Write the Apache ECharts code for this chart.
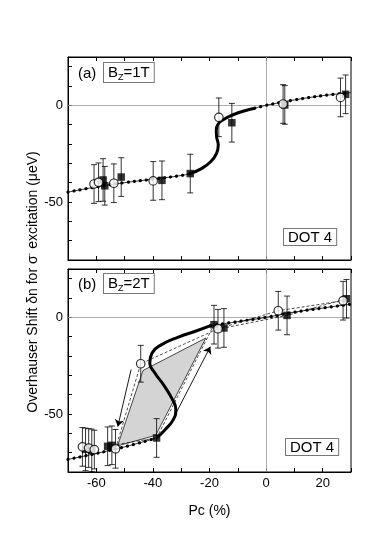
<!DOCTYPE html>
<html>
<head>
<meta charset="utf-8">
<script src="https://cdn.jsdelivr.net/npm/echarts@6/dist/echarts.min.js"></script>
<style>
  html, body { margin: 0; padding: 0; background: #fff; }
  #main { width: 390px; height: 560px; }
</style>
</head>
<body>
<div id="main"></div>
<script>
// axis tick labels
const xLabels = [-60, -40, -20, 0, 20];
const yLabels = [0, -50];

// panel (a), B_Z = 1T : [Pc, shift, error]
const aOpen = [[-60.8, -40.7, 10], [-59.2, -39.8, 10], [-53.8, -40.3, 10], [-39.9, -39.1, 10],
  [-16.7, -6.2, 10], [6.0, 0.7, 10], [26.3, 4.1, 10]];
const aFilled = [[-57.6, -38.6, 11], [-57.0, -41.6, 10], [-51.2, -37.1, 10], [-36.8, -38.8, 10],
  [-26.8, -35.3, 10], [-12.1, -9.0, 10], [6.6, 0.2, 10], [28.1, 5.7, 10]];
const aFitLeft = [[-70, -44.9], [-60, -42.2], [-50, -40.0], [-40, -38.2], [-30, -36.3], [-26.8, -35.3]];
const aFitS = [[-26.8, -35.3], [-23.2, -33.0], [-19.6, -29.2], [-17.5, -24.8], [-16.9, -20.5], [-17.5, -16.2],
  [-17.6, -12.8], [-17.0, -9.8], [-15.3, -7.6], [-11.9, -5.0], [-7.8, -2.9], [-4.0, -1.5]];
const aFitRight = [[-4.0, -1.5], [0, 0], [10, 2.8], [20, 5.0], [30, 6.6]];

// panel (b), B_Z = 2T
const bOpen = [[-64.9, -67.0, 10], [-62.7, -67.6, 10], [-60.7, -68.4, 10], [-53.2, -68.0, 10],
  [-44.3, -24.0, 9.5], [-17.0, -5.9, 10], [4.3, 3.4, 10], [27.2, 8.6, 10]];
const bFilled = [[-63.8, -68.3, 11], [-61.6, -68.8, 11], [-56.0, -66.7, 10], [-54.5, -66.2, 10],
  [-38.7, -62.4, 10], [-18.4, -3.8, 10], [-14.9, -5.5, 10], [7.4, 1.0, 10], [28.4, 9.6, 10]];
const bFitLeft = [[-70, -73.5], [-60, -70.4], [-50, -67.0], [-38.7, -62.4]];
const bFitS = [[-38.7, -62.4], [-35.7, -58.1], [-32.8, -52.9], [-31.9, -47.7], [-33.4, -41.7], [-36.3, -34.8],
  [-39.3, -28.8], [-41.1, -23.6], [-40.3, -18.4], [-36.9, -14.1], [-31.0, -10.2], [-25.0, -7.2], [-19.6, -4.3]];
const bFitRight = [[-19.6, -4.3], [-10, -2.2], [0, 0], [10, 2.7], [20, 4.8], [30, 6.8]];
const bOpenPath = [[-53.2, -68.0], [-44.3, -24.0], [-17.0, -5.9], [4.3, 3.4], [27.2, 8.6]];
const bFilledPath = [[-54.5, -66.2], [-38.7, -62.4], [-18.4, -3.8], [-14.9, -5.5], [7.4, 1.0], [28.4, 9.6]];
const bLoop = [[-52.5, -66.5], [-43.5, -27.5], [-21.3, -10.7], [-39.0, -61.0]];
const bArrows = [[[-47.7, -27.0], [-52.4, -56.5]], [[-32.0, -50.0], [-19.7, -15.2]]];

const font = "'Liberation Sans', Arial, sans-serif";
const chart = echarts.init(document.getElementById('main'), null, { renderer: 'canvas' });

function xAxisFor(grid, showLabels) {
  return {
    type: 'value', gridIndex: grid, min: -70, max: 30, interval: 10,
    axisLine: { show: true, onZero: false, lineStyle: { color: '#000', width: 1 } },
    axisTick: { show: true, inside: true, length: 4, lineStyle: { color: '#000' } },
    axisLabel: {
      show: showLabels, margin: 5, color: '#000', fontFamily: font, fontSize: 13,
      formatter: v => xLabels.includes(v) ? String(v) : ''
    },
    splitLine: { show: false },
    name: showLabels ? 'Pc (%)' : '', nameLocation: 'middle', nameGap: 32,
    nameTextStyle: { color: '#000', fontFamily: font, fontSize: 14 }
  };
}
function xTopFor(grid) {
  return {
    type: 'value', gridIndex: grid, position: 'top', min: -70, max: 30, interval: 10,
    axisLine: { show: true, onZero: false, lineStyle: { color: '#000' } },
    axisTick: { show: true, inside: true, length: 4, lineStyle: { color: '#000' } },
    axisLabel: { show: false }, splitLine: { show: false }
  };
}
function yAxisFor(grid) {
  return {
    type: 'value', gridIndex: grid, position: 'left', min: -80, max: 25, interval: 10,
    axisLine: { show: true, onZero: false, lineStyle: { color: '#000', width: 1 } },
    axisTick: { show: true, inside: true, length: 4, lineStyle: { color: '#000' } },
    axisLabel: {
      margin: 5, color: '#000', fontFamily: font, fontSize: 13,
      formatter: v => yLabels.includes(v) ? String(v) : ''
    },
    splitLine: { show: false }
  };
}

function errorBars(data, g) {
  return {
    type: 'custom', xAxisIndex: g, yAxisIndex: g, z: 5, silent: true,
    data: data,
    renderItem: function (params, api) {
      const x = api.value(0), y = api.value(1), e = api.value(2);
      const t = api.coord([x, y + e]), b = api.coord([x, y - e]);
      const st = { stroke: '#000', lineWidth: 0.8 };
      return {
        type: 'group', children: [
          { type: 'line', shape: { x1: t[0], y1: t[1], x2: b[0], y2: b[1] }, style: st },
          { type: 'line', shape: { x1: t[0] - 3, y1: t[1], x2: t[0] + 3, y2: t[1] }, style: st },
          { type: 'line', shape: { x1: b[0] - 3, y1: b[1], x2: b[0] + 3, y2: b[1] }, style: st }
        ]
      };
    }
  };
}
function markers(data, g, kind) {
  const open = kind === 'open';
  return {
    type: 'scatter', xAxisIndex: g, yAxisIndex: g, z: open ? 7 : 6,
    data: data.map(p => [p[0], p[1]]),
    symbol: open ? 'circle' : 'rect', symbolSize: open ? 8.5 : 7.5,
    itemStyle: open ? { color: '#fff', borderColor: '#000', borderWidth: 1.2 } : { color: '#000' }
  };
}
// thin line plus round dots; the first one of a panel also carries the grey zero lines
function dotted(data, g, withZero) {
  const thin = { type: 'line', xAxisIndex: g, yAxisIndex: g, z: 3, data: data, smooth: 0.4, showSymbol: false,
    lineStyle: { color: '#000', width: 0.8 } };
  if (withZero) {
    thin.markLine = { silent: true, symbol: 'none', label: { show: false }, animation: false, z: 1,
      lineStyle: { color: '#999', width: 0.8, type: 'solid' },
      data: [{ xAxis: 0 }, { yAxis: 0 }] };
  }
  return [thin,
    { type: 'line', xAxisIndex: g, yAxisIndex: g, z: 3, data: data, smooth: 0.4, showSymbol: false,
      lineStyle: { color: '#000', width: 3.2, type: [0.1, 6], cap: 'round' } }
  ];
}
function thick(data, g) {
  return { type: 'line', xAxisIndex: g, yAxisIndex: g, z: 4, data: data, smooth: 0.5, showSymbol: false,
    lineStyle: { color: '#000', width: 3 } };
}
function dashedPath(data, g) {
  return { type: 'line', xAxisIndex: g, yAxisIndex: g, z: 2, data: data, showSymbol: false,
    lineStyle: { color: '#000', width: 0.7, type: [3, 2] } };
}

function boxText(x, y, text, rich) {
  return {
    type: 'text', x: x, y: y, z: 100,
    style: {
      text: text, rich: rich, font: '15px ' + font, fill: '#000',
      backgroundColor: '#fff', borderColor: '#777', borderWidth: 1, padding: [1, 4, 0, 4]
    }
  };
}
const bRich = {
  b: { fontFamily: font, fontSize: 15, color: '#000', lineHeight: 18 },
  s: { fontFamily: font, fontSize: 9, color: '#000', verticalAlign: 'bottom', lineHeight: 18, padding: [8, 0, 0, 0] }
};

const option = {
  animation: false,
  backgroundColor: '#fff',
  grid: [
    { left: 68, top: 57, width: 283, height: 203, show: true, borderColor: '#000', borderWidth: 1, backgroundColor: 'transparent' },
    { left: 68, top: 269, width: 283, height: 203, show: true, borderColor: '#000', borderWidth: 1, backgroundColor: 'transparent' }
  ],
  xAxis: [xAxisFor(0, false), xAxisFor(1, true), xTopFor(0), xTopFor(1)],
  yAxis: [yAxisFor(0), yAxisFor(1)],
  series: [
    {
      type: 'custom', xAxisIndex: 1, yAxisIndex: 1, z: 1, silent: true, data: bLoop,
      renderItem: function (params, api) {
        if (params.dataIndex !== 0) return null;
        return { type: 'polygon', shape: { points: bLoop.map(p => api.coord(p)) },
          style: { fill: '#d4d4d4', stroke: '#000', lineWidth: 0.7 } };
      }
    },
    dashedPath(bOpenPath, 1), dashedPath(bFilledPath, 1),
    {
      type: 'lines', coordinateSystem: 'cartesian2d', xAxisIndex: 1, yAxisIndex: 1, z: 3,
      symbol: ['none', 'arrow'], symbolSize: [6, 7],
      lineStyle: { color: '#000', width: 0.9, opacity: 1 },
      data: bArrows.map(c => ({ coords: c }))
    },
    ...dotted(aFitLeft, 0, true), ...dotted(aFitRight, 0, false), thick(aFitS, 0),
    ...dotted(bFitLeft, 1, true), ...dotted(bFitRight, 1, false), thick(bFitS, 1),
    errorBars(aFilled, 0), errorBars(aOpen, 0), errorBars(bFilled, 1), errorBars(bOpen, 1),
    markers(aFilled, 0, 'filled'), markers(aOpen, 0, 'open'),
    markers(bFilled, 1, 'filled'), markers(bOpen, 1, 'open')
  ],
  graphic: [
    { type: 'text', x: 78, y: 66, z: 100, style: { text: '(a)', font: '15px ' + font, fill: '#000' } },
    { type: 'text', x: 78, y: 277, z: 100, style: { text: '(b)', font: '15px ' + font, fill: '#000' } },
    boxText(104, 63, '{b|B}{s|Z}{b|=1T}', bRich),
    boxText(104, 274, '{b|B}{s|Z}{b|=2T}', bRich),
    boxText(284, 229, 'DOT 4', null),
    boxText(286, 439, 'DOT 4', null),
    {
      type: 'text', x: 33, y: 282, rotation: Math.PI / 2, z: 100,
      style: {
        text: '{t|Overhauser Shift δn for σ}{u|-}{t| excitation (μeV)}',
        align: 'center', verticalAlign: 'middle',
        rich: {
          t: { fontFamily: font, fontSize: 14, color: '#000' },
          u: { fontFamily: font, fontSize: 8, color: '#000', verticalAlign: 'top', padding: [0, 0, 8, 0] }
        }
      }
    }
  ]
};
chart.setOption(option);
</script>
</body>
</html>
